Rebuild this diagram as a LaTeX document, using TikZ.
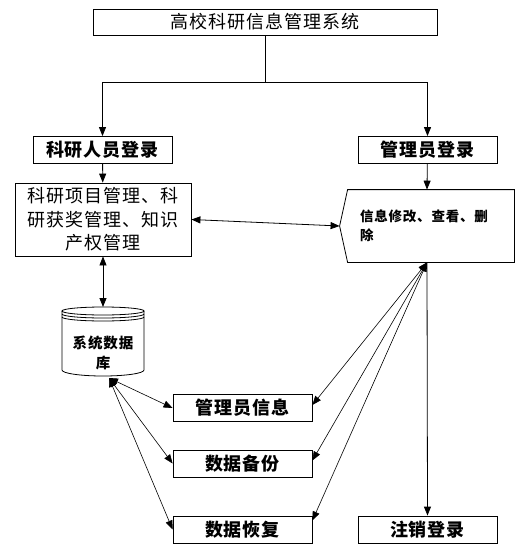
\documentclass[tikz,border=0pt]{standalone}
\usepackage{fontspec}
\setmainfont{Noto Sans CJK SC}
\usetikzlibrary{arrows.meta, calc}
\newcommand\plaintext{\fontsize{18}{23.5}\selectfont\addfontfeature{LetterSpace=5.5}}
\newcommand\boldtext{\bfseries\fontsize{18}{23.5}\selectfont\addfontfeature{LetterSpace=5.5}}
\newcommand\smalltext{\bfseries\fontsize{13.5}{19}\selectfont\addfontfeature{LetterSpace=6}}
\newcommand\dbtext{\bfseries\fontsize{14.5}{20}\selectfont\addfontfeature{LetterSpace=6}}
\tikzset{
    every path/.style={line width=.8pt},
    tip/.tip={Triangle[length=9pt, width=7pt]},
    titlebox/.style={draw, inner sep=0pt, minimum width=344pt,
        minimum height=26pt, font=\plaintext},
    loginbox/.style={draw, inner sep=0pt, minimum width=139pt,
        minimum height=27pt, font=\boldtext},
    funcbox/.style={draw, inner sep=0pt, minimum width=176pt,
        minimum height=73pt, text width=154pt, align=center, font=\plaintext},
    thinlink/.style={line width=.6pt, tip-tip},
}

\begin{document}
\begin{tikzpicture}[x=1pt, y=-1pt]
        \useasboundingbox (0, 0) rectangle (520, 554);
        \node[titlebox] (title) at (265, 22) {高校科研信息管理系统};
        \node[loginbox] (staff) at (102.5, 150) {科研人员登录};
        \node[loginbox] (admin) at (427.5, 150) {管理员登录};
        \node[funcbox] (proj) at (103, 219.5)
            {科研项目管理、科\\研获奖管理、知识\\产权管理};
        % pentagon shaped step, drawn round an empty node
        \node[inner sep=0pt, minimum width=174pt, minimum height=72pt,
            text width=134pt, align=left, font=\smalltext] (edit) at (427, 226)
            {信息修改、查看、删\\除};
        \draw ($(edit.north west)+(8, 0)$) -- (edit.north east)
            -- (edit.south east) -- ($(edit.south west)+(8, 0)$)
            -- (edit.west) -- cycle;
        % database
        \draw (62, 311) -- (62, 370)
            arc[start angle=180, end angle=360, x radius=41pt, y radius=6pt]
            -- (144, 311);
        \draw (103, 311) ellipse[x radius=41pt, y radius=4pt];
        \foreach \dy in {3, 6}
            \draw (62, 311+\dy)
                arc[start angle=180, end angle=360, x radius=41pt, y radius=4pt];
        \node[inner sep=0pt, align=center, font=\dbtext] (db) at (103, 353)
            {系统数据\\库};
        \coordinate (dbtop) at (103, 307);
        \coordinate (dbfoot) at (109, 378);
        \node[loginbox] (admininfo) at (242.5, 408) {管理员信息};
        \node[loginbox] (backup) at (242.5, 463.5) {数据备份};
        \node[loginbox] (restore) at (242.5, 529.5) {数据恢复};
        \node[loginbox] (logout) at (427.5, 529.5) {注销登录};
        % connectors
        \coordinate (split) at (265, 82);
        \draw (title.south) -- (split);
        \draw[-tip] (split) -| (staff.north);
        \draw[-tip] (split) -| (admin.north);
        \draw[-tip] (staff) -- (proj);
        \draw[-tip] (admin) -- (edit.north);
        \draw[tip-tip] (proj.east) -- (edit.west);
        \draw[tip-tip] (proj.south) -- (dbtop);
        \foreach \target in {admininfo, backup, restore}
            \draw[thinlink] (dbfoot) -- (\target.west);
        \draw[thinlink] (edit.south) -- ([yshift=3pt]admininfo.east);
        \draw[thinlink] (edit.south) -- ([yshift=3pt]backup.east);
        \draw[thinlink] (edit.south) -- ([yshift=9pt]restore.east);
        \draw[-tip] (edit.south) -- (logout.north);
    \end{tikzpicture}
\end{document}
